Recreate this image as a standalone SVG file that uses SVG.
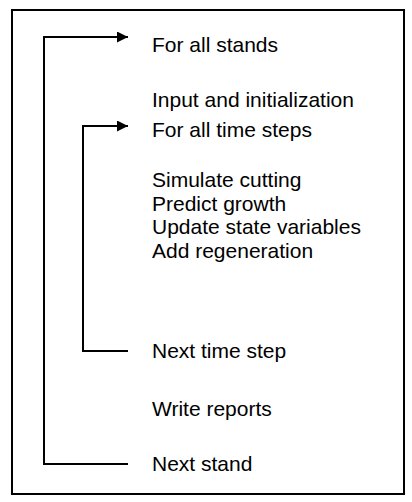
<svg xmlns="http://www.w3.org/2000/svg" width="412" height="502" viewBox="0 0 412 502">
<style>
text{font-family:"Liberation Sans",Arial,sans-serif;font-size:21px;fill:#000}
.ln{fill:none;stroke:#000;stroke-width:2}
</style>
<defs>
<marker id="ah" viewBox="0 0 10 10" refX="10" refY="5" markerWidth="11" markerHeight="11" markerUnits="userSpaceOnUse" orient="auto">
<path d="M0,0 L10,5 L0,10 z" fill="#000"/>
</marker>
</defs>
<rect x="12" y="10" width="392" height="484" fill="#fff" stroke="#000" stroke-width="2"/>
<g id="connectors">
<path class="ln" d="M128,464 H44 V37 H128" marker-end="url(#ah)"/>
<path class="ln" d="M128,351 H83 V126 H128" marker-end="url(#ah)"/>
</g>
<g id="n1"><text x="152" y="52">For all stands</text></g>
<g id="n2"><text x="152" y="107">Input and initialization</text></g>
<g id="n3"><text x="152" y="137">For all time steps</text></g>
<g id="n4"><text x="152" y="187">Simulate cutting<tspan x="152" dy="23.6">Predict growth</tspan><tspan x="152" dy="23.6">Update state variables</tspan><tspan x="152" dy="23.6">Add regeneration</tspan></text></g>
<g id="n5"><text x="152" y="358">Next time step</text></g>
<g id="n6"><text x="152" y="416">Write reports</text></g>
<g id="n7"><text x="152" y="471">Next stand</text></g>
</svg>
